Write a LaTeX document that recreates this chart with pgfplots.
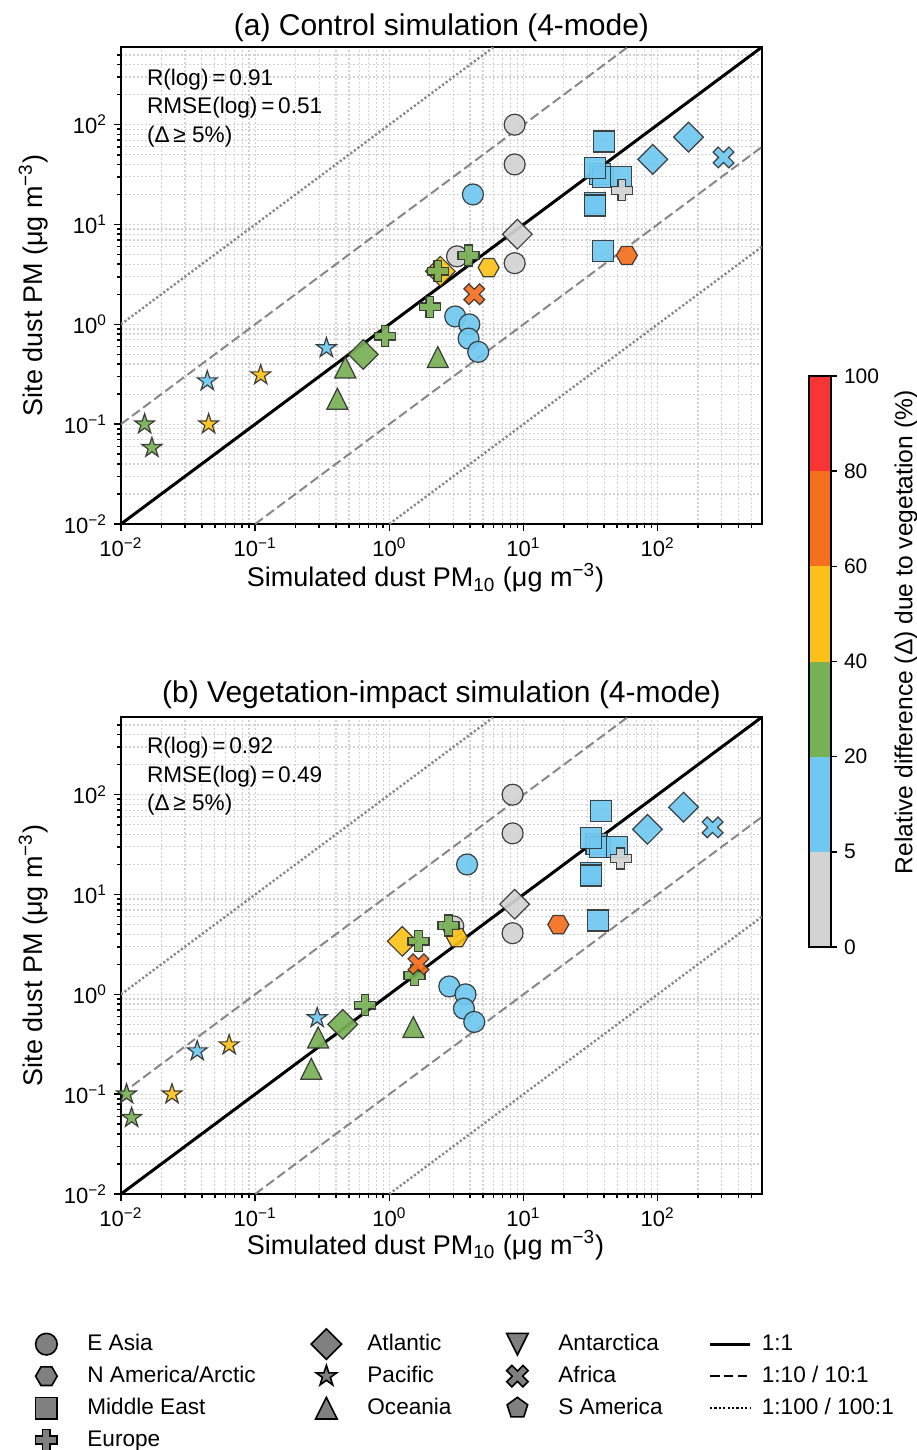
\documentclass[border=0pt]{standalone}
\usepackage{fontspec}
\setmainfont{Liberation Sans}
\usepackage{pgfplots}
\pgfplotsset{compat=1.18}

\definecolor{cgray}{RGB}{211,211,211}
\definecolor{cblue}{RGB}{112,200,240}
\definecolor{cgreen}{RGB}{120,176,86}
\definecolor{cyellow}{RGB}{252,194,26}
\definecolor{corange}{RGB}{245,112,30}
\definecolor{cred}{RGB}{248,52,52}
\definecolor{cedge}{RGB}{50,50,50}
\definecolor{lgray}{RGB}{128,128,128}
\definecolor{refgray}{RGB}{136,136,136}
\definecolor{gridgray}{RGB}{210,210,210}

\pgfdeclareplotmark{hexa}{%
  \pgfpathmoveto{\pgfpointpolar{0}{\pgfplotmarksize}}%
  \pgfpathlineto{\pgfpointpolar{60}{\pgfplotmarksize}}%
  \pgfpathlineto{\pgfpointpolar{120}{\pgfplotmarksize}}%
  \pgfpathlineto{\pgfpointpolar{180}{\pgfplotmarksize}}%
  \pgfpathlineto{\pgfpointpolar{240}{\pgfplotmarksize}}%
  \pgfpathlineto{\pgfpointpolar{300}{\pgfplotmarksize}}%
  \pgfpathclose\pgfusepathqfillstroke}
\pgfdeclareplotmark{sq}{%
  \pgfpathrectangle{\pgfpoint{-\pgfplotmarksize}{-\pgfplotmarksize}}{\pgfpoint{2\pgfplotmarksize}{2\pgfplotmarksize}}%
  \pgfusepathqfillstroke}
\pgfdeclareplotmark{dia}{%
  \pgfpathmoveto{\pgfpoint{0pt}{1.414\pgfplotmarksize}}%
  \pgfpathlineto{\pgfpoint{1.414\pgfplotmarksize}{0pt}}%
  \pgfpathlineto{\pgfpoint{0pt}{-1.414\pgfplotmarksize}}%
  \pgfpathlineto{\pgfpoint{-1.414\pgfplotmarksize}{0pt}}%
  \pgfpathclose\pgfusepathqfillstroke}
\pgfdeclareplotmark{starf}{%
  \pgfpathmoveto{\pgfpointpolar{90}{\pgfplotmarksize}}%
  \pgfpathlineto{\pgfpointpolar{126}{0.382\pgfplotmarksize}}%
  \pgfpathlineto{\pgfpointpolar{162}{\pgfplotmarksize}}%
  \pgfpathlineto{\pgfpointpolar{198}{0.382\pgfplotmarksize}}%
  \pgfpathlineto{\pgfpointpolar{234}{\pgfplotmarksize}}%
  \pgfpathlineto{\pgfpointpolar{270}{0.382\pgfplotmarksize}}%
  \pgfpathlineto{\pgfpointpolar{306}{\pgfplotmarksize}}%
  \pgfpathlineto{\pgfpointpolar{342}{0.382\pgfplotmarksize}}%
  \pgfpathlineto{\pgfpointpolar{18}{\pgfplotmarksize}}%
  \pgfpathlineto{\pgfpointpolar{54}{0.382\pgfplotmarksize}}%
  \pgfpathclose\pgfusepathqfillstroke}
\pgfdeclareplotmark{triu}{%
  \pgfpathmoveto{\pgfpoint{0pt}{\pgfplotmarksize}}%
  \pgfpathlineto{\pgfpoint{-\pgfplotmarksize}{-\pgfplotmarksize}}%
  \pgfpathlineto{\pgfpoint{\pgfplotmarksize}{-\pgfplotmarksize}}%
  \pgfpathclose\pgfusepathqfillstroke}
\pgfdeclareplotmark{trid}{%
  \pgfpathmoveto{\pgfpoint{0pt}{-\pgfplotmarksize}}%
  \pgfpathlineto{\pgfpoint{-\pgfplotmarksize}{\pgfplotmarksize}}%
  \pgfpathlineto{\pgfpoint{\pgfplotmarksize}{\pgfplotmarksize}}%
  \pgfpathclose\pgfusepathqfillstroke}
\pgfdeclareplotmark{pent}{%
  \pgfpathmoveto{\pgfpointpolar{90}{\pgfplotmarksize}}%
  \pgfpathlineto{\pgfpointpolar{162}{\pgfplotmarksize}}%
  \pgfpathlineto{\pgfpointpolar{234}{\pgfplotmarksize}}%
  \pgfpathlineto{\pgfpointpolar{306}{\pgfplotmarksize}}%
  \pgfpathlineto{\pgfpointpolar{18}{\pgfplotmarksize}}%
  \pgfpathclose\pgfusepathqfillstroke}
\pgfdeclareplotmark{plusf}{%
  \pgfpathmoveto{\pgfpoint{-0.36\pgfplotmarksize}{-\pgfplotmarksize}}%
  \pgfpathlineto{\pgfpoint{0.36\pgfplotmarksize}{-\pgfplotmarksize}}%
  \pgfpathlineto{\pgfpoint{0.36\pgfplotmarksize}{-0.36\pgfplotmarksize}}%
  \pgfpathlineto{\pgfpoint{\pgfplotmarksize}{-0.36\pgfplotmarksize}}%
  \pgfpathlineto{\pgfpoint{\pgfplotmarksize}{0.36\pgfplotmarksize}}%
  \pgfpathlineto{\pgfpoint{0.36\pgfplotmarksize}{0.36\pgfplotmarksize}}%
  \pgfpathlineto{\pgfpoint{0.36\pgfplotmarksize}{\pgfplotmarksize}}%
  \pgfpathlineto{\pgfpoint{-0.36\pgfplotmarksize}{\pgfplotmarksize}}%
  \pgfpathlineto{\pgfpoint{-0.36\pgfplotmarksize}{0.36\pgfplotmarksize}}%
  \pgfpathlineto{\pgfpoint{-\pgfplotmarksize}{0.36\pgfplotmarksize}}%
  \pgfpathlineto{\pgfpoint{-\pgfplotmarksize}{-0.36\pgfplotmarksize}}%
  \pgfpathlineto{\pgfpoint{-0.36\pgfplotmarksize}{-0.36\pgfplotmarksize}}%
  \pgfpathclose\pgfusepathqfillstroke}
\pgfdeclareplotmark{xf}{%
  \pgfpathmoveto{\pgfpoint{0pt}{-0.48\pgfplotmarksize}}%
  \pgfpathlineto{\pgfpoint{0.51\pgfplotmarksize}{-0.99\pgfplotmarksize}}%
  \pgfpathlineto{\pgfpoint{0.99\pgfplotmarksize}{-0.51\pgfplotmarksize}}%
  \pgfpathlineto{\pgfpoint{0.48\pgfplotmarksize}{0pt}}%
  \pgfpathlineto{\pgfpoint{0.99\pgfplotmarksize}{0.51\pgfplotmarksize}}%
  \pgfpathlineto{\pgfpoint{0.51\pgfplotmarksize}{0.99\pgfplotmarksize}}%
  \pgfpathlineto{\pgfpoint{0pt}{0.48\pgfplotmarksize}}%
  \pgfpathlineto{\pgfpoint{-0.51\pgfplotmarksize}{0.99\pgfplotmarksize}}%
  \pgfpathlineto{\pgfpoint{-0.99\pgfplotmarksize}{0.51\pgfplotmarksize}}%
  \pgfpathlineto{\pgfpoint{-0.48\pgfplotmarksize}{0pt}}%
  \pgfpathlineto{\pgfpoint{-0.99\pgfplotmarksize}{-0.51\pgfplotmarksize}}%
  \pgfpathlineto{\pgfpoint{-0.51\pgfplotmarksize}{-0.99\pgfplotmarksize}}%
  \pgfpathclose\pgfusepathqfillstroke}

\pgfplotsset{
  mkpt/.style 2 args={forget plot, only marks, mark=#1, mark size=5.25bp,
    mark options={draw=cedge, fill=#2, line width=0.6bp, solid, opacity=0.92}},
  refa/.style={forget plot, black, line width=1.5bp},
  refb/.style={forget plot, refgray, line width=1bp, dash pattern=on 4.8bp off 2.1bp},
  refc/.style={forget plot, refgray, line width=1.2bp, dash pattern=on 1.1bp off 1.1bp},
  legmk/.style={legend image code/.code={\path[draw=none,fill=none] (-10bp,-8bp) rectangle (20.5bp,8bp); \draw[##1] plot coordinates {(0bp,0bp)};}},
  legln/.style={legend image code/.code={\path[draw=none,fill=none] (0bp,-8bp) rectangle (26bp,8bp); \draw[##1] (0bp,0bp) -- (20bp,0bp);}},
  lmk/.style={only marks, mark size=5.4bp, mark options={draw=black, fill=lgray, line width=0.8bp, solid}, legmk},
}

\begin{document}
\begin{tikzpicture}
\useasboundingbox (0,0) rectangle (458.5bp,-725bp);

% ================= panel (a) =================
\begin{loglogaxis}[at={(60.5bp,-262bp)}, anchor=south west,
    scale only axis, width=320.5bp, height=238.5bp,
    xmin=0.01, xmax=600, ymin=0.01, ymax=600,
    xtick={0.01,0.1,1,10,100}, ytick={0.01,0.1,1,10,100},
    xticklabels={10\textsuperscript{−2},10\textsuperscript{−1},10\textsuperscript{0},10\textsuperscript{1},10\textsuperscript{2}},
    yticklabels={10\textsuperscript{−2},10\textsuperscript{−1},10\textsuperscript{0},10\textsuperscript{1},10\textsuperscript{2}},
    minor xtick={0.02,0.03,0.04,0.05,0.06,0.07,0.08,0.09,0.2,0.3,0.4,0.5,0.6,0.7,0.8,0.9,2,3,4,5,6,7,8,9,20,30,40,50,60,70,80,90,200,300,400,500},
    minor ytick={0.02,0.03,0.04,0.05,0.06,0.07,0.08,0.09,0.2,0.3,0.4,0.5,0.6,0.7,0.8,0.9,2,3,4,5,6,7,8,9,20,30,40,50,60,70,80,90,200,300,400,500},
    tick align=outside, xtick pos=left, ytick pos=left,
    major tick length=3.5bp, minor tick length=2bp,
    tick style={black, line width=0.8bp},
    axis line style={line width=1.2bp},
    grid=both,
    major grid style={draw=gridgray, line width=0.6bp, dash pattern=on 1bp off 1bp},
    minor grid style={draw=gridgray, line width=0.6bp, dash pattern=on 1bp off 1bp},
    tick label style={font=\fontsize{11bp}{13bp}\selectfont},
    label style={font=\fontsize{13.5bp}{16bp}\selectfont},
    xlabel={Simulated dust PM\textsubscript{10} (μg m\textsuperscript{−3})},
    ylabel={Site dust PM (μg m\textsuperscript{−3})},
    ylabel style={at={(axis description cs:-0.137,0.5)}, anchor=center},
    xlabel style={at={(axis description cs:0.475,-0.113)}, anchor=center},
    title={(a) Control simulation (4-mode)},
    title style={font=\fontsize{15bp}{18bp}\selectfont, at={(axis description cs:0.5,1.046)}, anchor=center, yshift=-7.5bp}]
\addplot[refa] coordinates {(0.01,0.01) (600,600)};
\addplot[refb] coordinates {(0.01,0.1) (60,600)};
\addplot[refb] coordinates {(0.1,0.01) (600,60)};
\addplot[refc] coordinates {(0.01,1) (6,600)};
\addplot[refc] coordinates {(1,0.01) (600,6)};
% E Asia
\addplot[mkpt={*}{cgray}] coordinates {(8.6,100) (8.6,40) (8.6,4.1) (3.2,4.8)};
\addplot[mkpt={*}{cblue}] coordinates {(4.2,20) (3.1,1.2) (3.95,1.0) (3.9,0.72) (4.6,0.53)};
% N America/Arctic
\addplot[mkpt={hexa}{cyellow}] coordinates {(5.5,3.7)};
\addplot[mkpt={hexa}{corange}] coordinates {(59,4.9)};
% Middle East
\addplot[mkpt={sq}{cblue}] coordinates {(40,68) (37,32) (39,30) (53,30) (34,37) (34,16.3) (34,15.5) (39,5.4)};
% Atlantic
\addplot[mkpt={dia}{cgray}] coordinates {(9.0,8.0)};
\addplot[mkpt={dia}{cyellow}] coordinates {(2.4,3.4)};
\addplot[mkpt={dia}{cgreen}] coordinates {(0.64,0.5)};
\addplot[mkpt={dia}{cblue}] coordinates {(92,45) (170,75)};
% Europe
\addplot[mkpt={plusf}{cgray}] coordinates {(54,22)};
\addplot[mkpt={plusf}{cgreen}] coordinates {(3.9,4.9) (2.3,3.4) (2.0,1.5) (0.93,0.76)};
% Pacific
\addplot[mkpt={starf}{cblue}] coordinates {(0.34,0.58) (0.044,0.27)};
\addplot[mkpt={starf}{cyellow}] coordinates {(0.11,0.31) (0.045,0.10)};
\addplot[mkpt={starf}{cgreen}] coordinates {(0.015,0.10) (0.017,0.058)};
% Oceania
\addplot[mkpt={triu}{cgreen}] coordinates {(0.47,0.37) (0.41,0.18) (2.3,0.47)};
% Africa
\addplot[mkpt={xf}{corange}] coordinates {(4.3,2.0)};
\addplot[mkpt={xf}{cblue}] coordinates {(310,47)};
\node[anchor=north west, align=left, inner sep=0pt, font=\fontsize{11.3bp}{14.25bp}\selectfont]
  at (rel axis cs:0.04,0.955) {R(log)\,=\,0.91\\RMSE(log)\,=\,0.51\\(Δ\,≥ 5\%)};
\end{loglogaxis}

% ================= panel (b) =================
\begin{loglogaxis}[at={(60.5bp,-597bp)}, anchor=south west,
    scale only axis, width=320.5bp, height=238.5bp,
    xmin=0.01, xmax=600, ymin=0.01, ymax=600,
    xtick={0.01,0.1,1,10,100}, ytick={0.01,0.1,1,10,100},
    xticklabels={10\textsuperscript{−2},10\textsuperscript{−1},10\textsuperscript{0},10\textsuperscript{1},10\textsuperscript{2}},
    yticklabels={10\textsuperscript{−2},10\textsuperscript{−1},10\textsuperscript{0},10\textsuperscript{1},10\textsuperscript{2}},
    minor xtick={0.02,0.03,0.04,0.05,0.06,0.07,0.08,0.09,0.2,0.3,0.4,0.5,0.6,0.7,0.8,0.9,2,3,4,5,6,7,8,9,20,30,40,50,60,70,80,90,200,300,400,500},
    minor ytick={0.02,0.03,0.04,0.05,0.06,0.07,0.08,0.09,0.2,0.3,0.4,0.5,0.6,0.7,0.8,0.9,2,3,4,5,6,7,8,9,20,30,40,50,60,70,80,90,200,300,400,500},
    tick align=outside, xtick pos=left, ytick pos=left,
    major tick length=3.5bp, minor tick length=2bp,
    tick style={black, line width=0.8bp},
    axis line style={line width=1.2bp},
    grid=both,
    major grid style={draw=gridgray, line width=0.6bp, dash pattern=on 1bp off 1bp},
    minor grid style={draw=gridgray, line width=0.6bp, dash pattern=on 1bp off 1bp},
    tick label style={font=\fontsize{11bp}{13bp}\selectfont},
    label style={font=\fontsize{13.5bp}{16bp}\selectfont},
    xlabel={Simulated dust PM\textsubscript{10} (μg m\textsuperscript{−3})},
    ylabel={Site dust PM (μg m\textsuperscript{−3})},
    ylabel style={at={(axis description cs:-0.137,0.5)}, anchor=center},
    xlabel style={at={(axis description cs:0.475,-0.107)}, anchor=center},
    title={(b) Vegetation-impact simulation (4-mode)},
    title style={font=\fontsize{15bp}{18bp}\selectfont, at={(axis description cs:0.5,1.05)}, anchor=center, yshift=-7bp},
    legend columns=4,
    legend style={at={(rel axis cs:-0.1482,-0.2804)}, anchor=north west, draw=none, fill=none,
      inner sep=0pt, column sep=0pt, row sep=0pt, nodes={inner sep=0pt, outer sep=0pt},
      font=\fontsize{11.3bp}{13bp}\selectfont}]
\addplot[refa] coordinates {(0.01,0.01) (600,600)};
\addplot[refb] coordinates {(0.01,0.1) (60,600)};
\addplot[refb] coordinates {(0.1,0.01) (600,60)};
\addplot[refc] coordinates {(0.01,1) (6,600)};
\addplot[refc] coordinates {(1,0.01) (600,6)};
% E Asia
\addplot[mkpt={*}{cgray}] coordinates {(8.3,100) (8.3,41) (8.3,4.1) (3.0,4.8)};
\addplot[mkpt={*}{cblue}] coordinates {(3.8,20) (2.8,1.2) (3.7,1.0) (3.6,0.72) (4.3,0.53)};
% N America/Arctic
\addplot[mkpt={hexa}{cyellow}] coordinates {(3.2,3.7)};
\addplot[mkpt={hexa}{corange}] coordinates {(18.2,5.0)};
% Middle East
\addplot[mkpt={sq}{cblue}] coordinates {(37.6,69) (35,32) (37,30) (50,30) (32,37) (32,16.3) (32,15.5) (36,5.5)};
% Atlantic
\addplot[mkpt={dia}{cgray}] coordinates {(8.6,8.0)};
\addplot[mkpt={dia}{cyellow}] coordinates {(1.25,3.4)};
\addplot[mkpt={dia}{cgreen}] coordinates {(0.45,0.5)};
\addplot[mkpt={dia}{cblue}] coordinates {(84,45) (156,75)};
% Europe
\addplot[mkpt={plusf}{cgray}] coordinates {(53,23)};
\addplot[mkpt={plusf}{cgreen}] coordinates {(2.76,4.9) (1.65,3.4) (1.54,1.55) (0.66,0.78)};
% Pacific
\addplot[mkpt={starf}{cblue}] coordinates {(0.29,0.58) (0.037,0.27)};
\addplot[mkpt={starf}{cyellow}] coordinates {(0.064,0.31) (0.024,0.10)};
\addplot[mkpt={starf}{cgreen}] coordinates {(0.011,0.10) (0.012,0.058)};
% Oceania
\addplot[mkpt={triu}{cgreen}] coordinates {(0.295,0.37) (0.262,0.18) (1.51,0.47)};
% Africa
\addplot[mkpt={xf}{corange}] coordinates {(1.65,2.0)};
\addplot[mkpt={xf}{cblue}] coordinates {(257,47)};
\node[anchor=north west, align=left, inner sep=0pt, font=\fontsize{11.3bp}{14.25bp}\selectfont]
  at (rel axis cs:0.04,0.958) {R(log)\,=\,0.92\\RMSE(log)\,=\,0.49\\(Δ\,≥ 5\%)};
% ---- legend (row-major order) ----
\addlegendimage{lmk, mark=*}\addlegendentry{\makebox[109.5bp][l]{E Asia}}
\addlegendimage{lmk, mark=dia}\addlegendentry{\makebox[65bp][l]{Atlantic}}
\addlegendimage{lmk, mark=trid}\addlegendentry{\makebox[75bp][l]{Antarctica}}
\addlegendimage{legln, black, line width=1.5bp}\addlegendentry{\makebox[80bp][l]{1:1}}
\addlegendimage{lmk, mark=hexa}\addlegendentry{\makebox[109.5bp][l]{N America/Arctic}}
\addlegendimage{lmk, mark=starf}\addlegendentry{\makebox[65bp][l]{Pacific}}
\addlegendimage{lmk, mark=xf}\addlegendentry{\makebox[75bp][l]{Africa}}
\addlegendimage{legln, black, line width=1bp, dash pattern=on 4.8bp off 2.1bp}\addlegendentry{\makebox[80bp][l]{1:10 / 10:1}}
\addlegendimage{lmk, mark=sq}\addlegendentry{\makebox[109.5bp][l]{Middle East}}
\addlegendimage{lmk, mark=triu}\addlegendentry{\makebox[65bp][l]{Oceania}}
\addlegendimage{lmk, mark=pent}\addlegendentry{\makebox[75bp][l]{S America}}
\addlegendimage{legln, black, line width=1.2bp, dash pattern=on 1.1bp off 1.1bp}\addlegendentry{\makebox[80bp][l]{1:100 / 100:1}}
\addlegendimage{lmk, mark=plusf}\addlegendentry{\makebox[109.5bp][l]{Europe}}
\end{loglogaxis}

% ================= colorbar =================
\begin{axis}[at={(404.5bp,-473.5bp)}, anchor=south west, scale only axis,
  width=11bp, height=285.5bp, xmin=0, xmax=1, ymin=0, ymax=6,
  xtick=\empty, ytick={0,1,2,3,4,5,6}, yticklabels={0,5,20,40,60,80,100},
  ytick pos=right, yticklabel pos=right, tick align=outside,
  major tick length=3bp, tick style={black, line width=0.8bp},
  axis line style={line width=1.2bp}, axis on top,
  tick label style={font=\fontsize{10.5bp}{12bp}\selectfont},
  ylabel={Relative difference (Δ) due to vegetation (\%)},
  ylabel style={at={(axis description cs:4.41,0.551)}, anchor=center,
    font=\fontsize{12.3bp}{15bp}\selectfont}]
\addplot[fill=cgray, draw=none] coordinates {(0,0) (1,0) (1,1) (0,1)} -- cycle;
\addplot[fill=cblue, draw=none] coordinates {(0,1) (1,1) (1,2) (0,2)} -- cycle;
\addplot[fill=cgreen, draw=none] coordinates {(0,2) (1,2) (1,3) (0,3)} -- cycle;
\addplot[fill=cyellow, draw=none] coordinates {(0,3) (1,3) (1,4) (0,4)} -- cycle;
\addplot[fill=corange, draw=none] coordinates {(0,4) (1,4) (1,5) (0,5)} -- cycle;
\addplot[fill=cred, draw=none] coordinates {(0,5) (1,5) (1,6) (0,6)} -- cycle;
\end{axis}
\end{tikzpicture}
\end{document}
